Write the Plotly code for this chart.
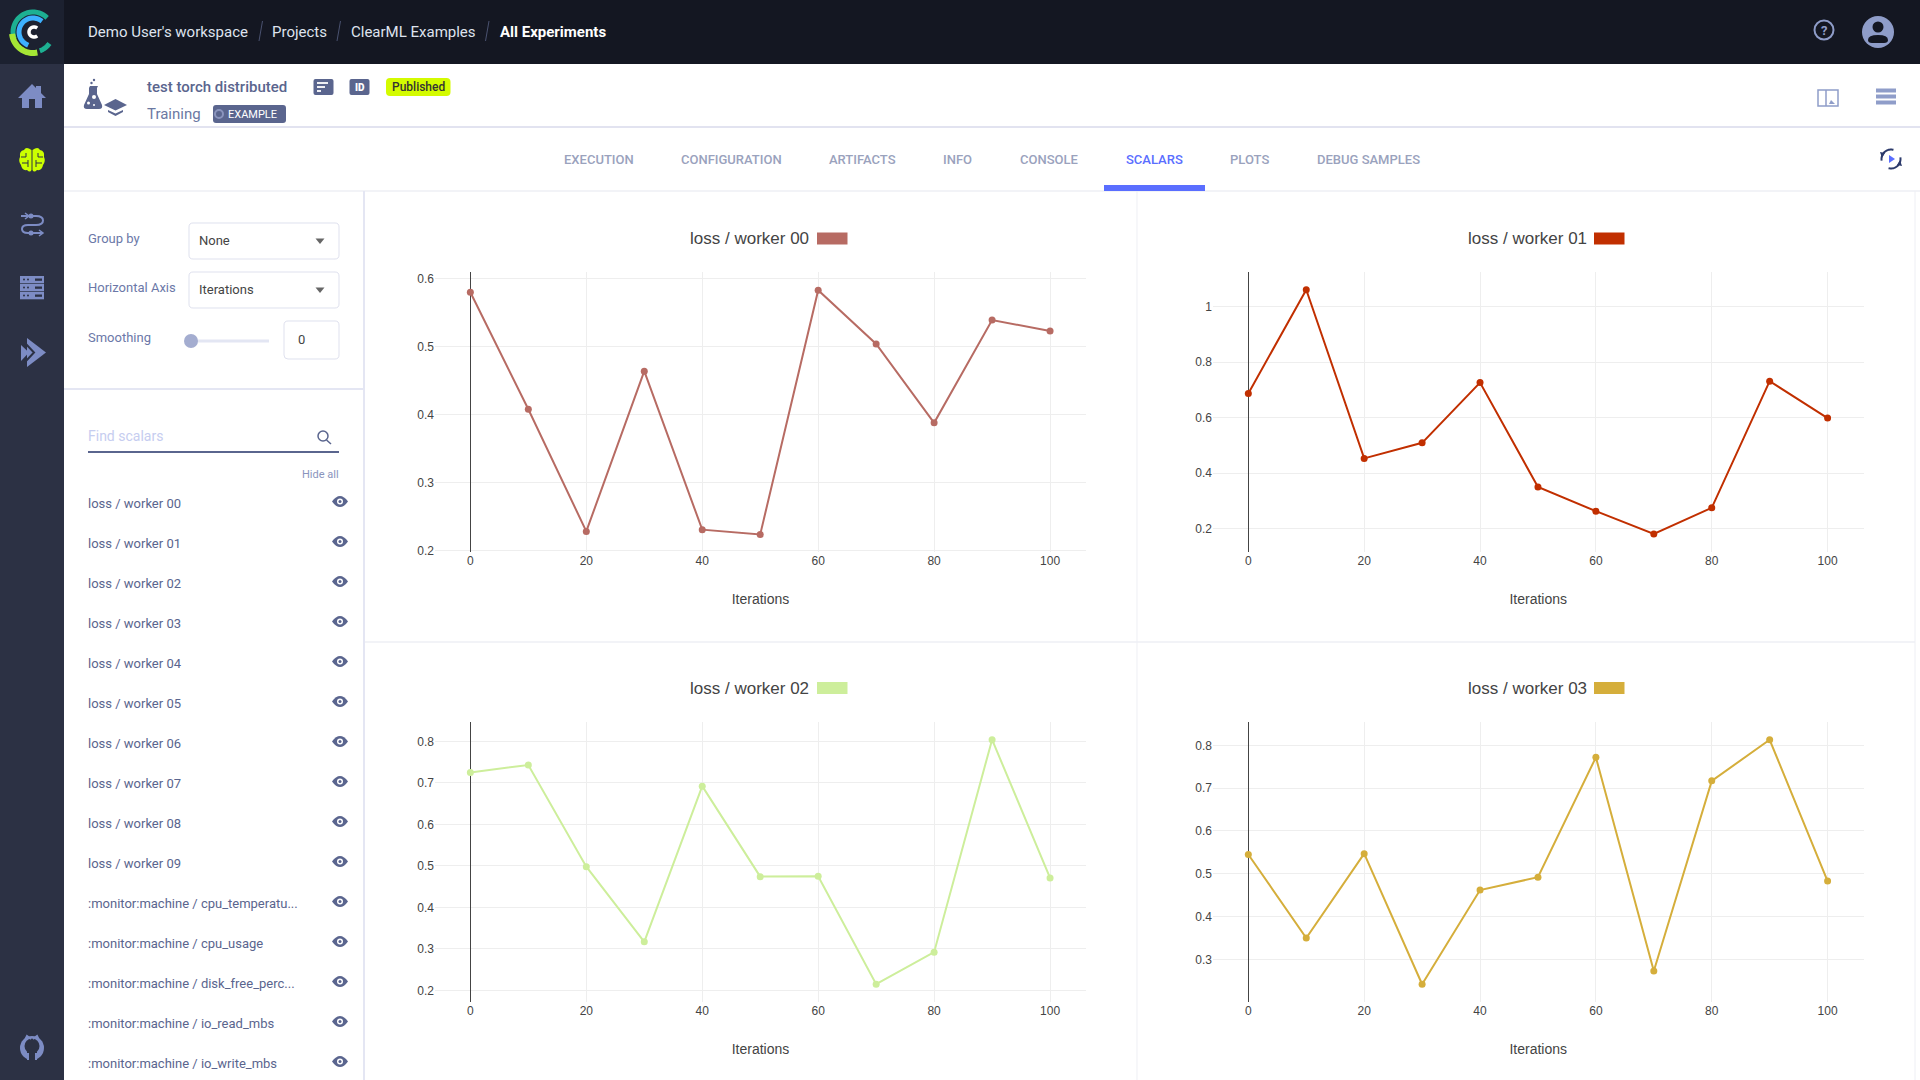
import re
import numpy as np
import plotly.graph_objects as go

iterations = [0, 10, 20, 30, 40, 50, 60, 70, 80, 90, 100]
worker_00 = [0.58, 0.408, 0.2285, 0.464, 0.231, 0.224, 0.583, 0.504, 0.388, 0.539, 0.523]
worker_01 = [0.687, 1.06, 0.453, 0.509, 0.726, 0.35, 0.263, 0.181, 0.275, 0.731, 0.598]
worker_02 = [0.725, 0.743, 0.498, 0.317, 0.692, 0.474, 0.475, 0.215, 0.292, 0.804, 0.471]
worker_03 = [0.545, 0.35, 0.547, 0.242, 0.462, 0.492, 0.772, 0.273, 0.717, 0.813, 0.483]

chart_titles = ["loss / worker 00", "loss / worker 01", "loss / worker 02", "loss / worker 03"]
scalar_names = ["loss / worker 00", "loss / worker 01", "loss / worker 02", "loss / worker 03",
                "loss / worker 04", "loss / worker 05", "loss / worker 06", "loss / worker 07",
                "loss / worker 08", "loss / worker 09", ":monitor:machine / cpu_temperatu...",
                ":monitor:machine / cpu_usage", ":monitor:machine / disk_free_perc...",
                ":monitor:machine / io_read_mbs", ":monitor:machine / io_write_mbs"]
tab_names = ["EXECUTION", "CONFIGURATION", "ARTIFACTS", "INFO", "CONSOLE", "SCALARS", "PLOTS", "DEBUG SAMPLES"]
crumbs = ["Demo User's workspace", "Projects", "ClearML Examples"]

W, H = 1920, 1080
UI = "Roboto"
CHART = "Liberation Sans"
SLATE = "#5a658e"
SIDE = "#2c3144"
ICON = "#7d8cc4"

shapes = []
notes = []


def fx(x):
    return x / W


def fy(y):
    return 1 - y / H


# svg path in page pixels -> path in paper coordinates
def svg(d, fill=None, line=None, lw=1):
    out = []
    i = 0
    for tok in re.findall(r"[MLQCZ]|-?\d+\.?\d*", d):
        if tok.isalpha():
            out.append(tok)
        else:
            out.append(str(round(fx(float(tok)) if i % 2 == 0 else fy(float(tok)), 6)))
            i += 1
    s = dict(type="path", xref="paper", yref="paper", layer="below", path=" ".join(out))
    s["fillcolor"] = fill if fill else "rgba(0,0,0,0)"
    s["line"] = dict(color=line, width=lw) if line else dict(width=0)
    shapes.append(s)


def rect(x0, y0, x1, y1, fill=None, line=None, lw=1, r=0):
    if r:
        svg(f"M{x0 + r} {y0} L{x1 - r} {y0} Q{x1} {y0} {x1} {y0 + r} L{x1} {y1 - r} Q{x1} {y1} {x1 - r} {y1} "
            f"L{x0 + r} {y1} Q{x0} {y1} {x0} {y1 - r} L{x0} {y0 + r} Q{x0} {y0} {x0 + r} {y0} Z", fill, line, lw)
    else:
        svg(f"M{x0} {y0} L{x1} {y0} L{x1} {y1} L{x0} {y1} Z", fill, line, lw)


def circle(cx, cy, r, fill=None, line=None, lw=1):
    shapes.append(dict(type="circle", xref="paper", yref="paper", layer="below",
                       x0=fx(cx - r), x1=fx(cx + r), y0=fy(cy + r), y1=fy(cy - r),
                       fillcolor=fill if fill else "rgba(0,0,0,0)",
                       line=dict(color=line, width=lw) if line else dict(width=0)))


def arc(cx, cy, r, a0, a1, color, lw):
    pts = [(cx + r * np.cos(np.radians(a)), cy - r * np.sin(np.radians(a))) for a in np.linspace(a0, a1, 24)]
    svg("M" + " L".join(f"{p[0]:.2f} {p[1]:.2f}" for p in pts), None, color, lw)


def label(x, y, text, size, color, anchor="left", family=UI, weight=400):
    notes.append(dict(x=fx(x), y=fy(y), xref="paper", yref="paper", text=text, showarrow=False,
                      xanchor=anchor, yanchor="middle", borderpad=0, borderwidth=0,
                      font=dict(family=family, size=size, color=color, weight=weight)))


# page blocks
rect(64, 0, 1920, 64, "#141722")
rect(0, 0, 64, 64, "#1c2130")
rect(0, 64, 64, 1080, SIDE)
svg("M64 127 L1920 127", None, "#e2e3f0", 2)
svg("M64 191 L1920 191", None, "#eeeff4", 1.5)
svg("M364 191 L364 1080", None, "#e4e6f3", 2)
svg("M64 389 L364 389", None, "#e4e6f3", 2)
svg("M1137 191 L1137 1080", None, "#eeeff4", 1)
svg("M365 642 L1915 642", None, "#eeeff4", 1.5)
svg("M1915 191 L1915 1080", None, "#eeeff4", 1)

# logo
arc(33, 32, 20, 45, 200, "#1db092", 5)
arc(33, 32, 20, 290, 325, "#1db092", 5)
arc(33, 32, 14, 50, 250, "#3db1ff", 5)
arc(33, 32, 21, 185, 282, "#a5e635", 6)
arc(34, 32, 5, 50, 310, "#ffffff", 3.5)

# sidebar icons
svg("M18 98 L32 84 L36 88 L36 86 L41 86 L41 93 L46 98 L42 98 L42 108 L35 108 L35 99 L29 99 L29 108 L22 108 L22 98 Z", ICON)
svg("M31.5 150 Q26 146 24 150 Q19 151 20 157 Q18 161 21 165 Q22 171 27 170 Q30 173 31.5 170 Z", "#ccff00")
svg("M32.5 150 Q38 146 40 150 Q45 151 44 157 Q46 161 43 165 Q42 171 37 170 Q34 173 32.5 170 Z", "#ccff00")
svg("M21 157 L26 157 L26 153 M28 160 L28 167 M22 163 L28 163", None, SIDE, 1)
svg("M43 157 L38 157 L38 153 M36 160 L36 167 M42 163 L36 163", None, SIDE, 1)
svg("M21 216 L36 216 Q43 216 43 220.5 Q43 225 36 225 L28 225 Q22 225 22 229 Q22 233 28 233 L43 233", None, ICON, 2)
svg("M39 230 L43 233 L39 236 M25 213 L29 216 L25 219", None, ICON, 1.5)
circle(31, 216, 2.5, ICON)
circle(31, 233, 2.5, ICON)
for y in [276, 284, 292]:
    rect(20, y, 44, y + 7.3, ICON)
    rect(35, y + 2.5, 42, y + 4.8, SIDE)
    circle(24, y + 3.6, 1, SIDE)
    circle(28, y + 3.6, 1, SIDE)
svg("M27 338 L46 352.5 L27 367 Z", ICON)
svg("M25 343 L34 352.5 L25 362", None, SIDE, 2)
svg("M21 345 L29 352.5 L21 361 Z", ICON)
circle(32, 1048, 12, ICON)
circle(32, 1046, 7.5, SIDE)
svg("M25 1040 L27 1036 L31 1039 M39 1040 L37 1036 L33 1039", None, ICON, 2)
rect(27, 1052, 37, 1061, SIDE)
svg("M28 1060 L28 1053 M36 1060 L36 1053", None, ICON, 2)

# top bar
x_crumb = [88, 272, 351]
for x, t in zip(x_crumb, crumbs):
    label(x, 32, t, 15, "#dfe3ee")
label(499.5, 32, "All Experiments", 15, "#ffffff", weight=700)
for x in [259, 337, 485.5]:
    svg(f"M{x + 3.5} 21 L{x} 41", None, "#4a5270", 1)
circle(1824, 30, 9.5, None, "#8f9dc9", 2)
label(1824, 30, "?", 13, "#8f9dc9", "center", weight=700)
circle(1878, 32, 16, "#8f9dc9")
circle(1878, 27, 5.5, "#141722")
svg("M1868 40 Q1868 35 1878 35 Q1888 35 1888 40 Q1888 43 1884 43 L1872 43 Q1868 43 1868 40 Z", "#141722")

# experiment header
svg("M90 86 L98 86 L97 88 L97 94 L102 105 Q103 109 99 109 L87 109 Q83 109 84 105 L89 94 L89 88 Z", SLATE)
circle(94, 97, 2, "#ffffff")
circle(88.5, 103, 1.5, "#ffffff")
circle(94, 105, 1, "#ffffff")
circle(94, 80, 1.2, SLATE)
circle(91.5, 83, 1.2, SLATE)
svg("M104 105 L115.5 99 L127 105 L115.5 110.5 Z", SLATE)
svg("M108 110 L115.5 113.5 L123 110 L123 112 L115.5 116 L108 112 Z", SLATE)
label(147, 87, "test torch distributed", 15, SLATE, weight=500)
label(147, 114, "Training", 15, "#6b78a2")
rect(213, 105, 286, 123, SLATE, r=3)
circle(219, 114, 4, None, "#8a94bd", 2)
label(252, 114.5, "EXAMPLE", 11, "#ffffff", "center")
rect(313.5, 79, 333.5, 95, SLATE, r=2)
for y, x1 in [(83, 328), (87, 325), (91, 321)]:
    svg(f"M317 {y} L{x1} {y}", None, "#ffffff", 1.8)
rect(349.5, 79, 369.5, 95, SLATE, r=2)
label(359.5, 87, "ID", 10, "#ffffff", "center", weight=900)
rect(386, 78, 450.5, 96, "#d4fb00", r=4)
label(418.2, 87, "Published", 12, "#333333", "center", weight=500)
rect(1818, 90, 1838, 106, None, "#8f9dc9", 1.5)
svg("M1826 90 L1826 106", None, "#8f9dc9", 1.5)
svg("M1829 104 L1831 100 L1833 102 L1835 104 Z", "#8f9dc9")
for y in [90.5, 96.5, 102.5]:
    rect(1876, y - 2, 1896, y + 2, "#8f9dc9")

# tabs
tab_x = [599, 731, 862.7, 957.5, 1049, 1154, 1249, 1368]
for x, t in zip(tab_x, tab_names):
    label(x, 159.5, t, 13, "#5a6eff" if t == "SCALARS" else "#9aa2bd", "center", weight=500)
rect(1104, 185, 1205, 191, "#5a6eff")
arc(1891, 159, 9.5, 75, 190, "#2c3a6b", 2)
arc(1891, 159, 9.5, 255, 370, "#2c3a6b", 2)
svg("M1880 152 L1882 158 L1885 153 Z M1902 166 L1900 160 L1897 165 Z", "#2c3a6b")
svg("M1889 155 L1895 159 L1889 163 Z", "#5a6eff")

# filter panel
label(88, 238.6, "Group by", 13, "#6b78a8")
label(88, 287, "Horizontal Axis", 13, "#6b78a8")
label(88, 338, "Smoothing", 13, "#6b78a8")
for y0, txt in [(223, "None"), (272, "Iterations")]:
    rect(189, y0, 339, y0 + 36, None, "#dfe1ee", 1, r=4)
    label(199, y0 + 17.5, txt, 13, "#444444")
    svg(f"M315.5 {y0 + 15.5} L324.5 {y0 + 15.5} L320 {y0 + 21} Z", "#666666")
svg("M191 341 L269 341", None, "#e3e6f3", 3)
circle(191, 341, 7, "#a4add0")
rect(284, 321, 339, 359, None, "#dfe1ee", 1, r=4)
label(298, 339, "0", 13, "#444444")

# scalar list
label(88, 435.5, "Find scalars", 14, "#c6cdf0")
svg("M88 452 L339 452", None, SLATE, 2)
circle(323, 436, 5, None, SLATE, 1.5)
svg("M326.5 440 L331 444", None, SLATE, 1.5)
label(339, 474, "Hide all", 11, "#8a94bd", "right")
for i, name in enumerate(scalar_names):
    y = 503 + i * 40
    label(88, y, name, 13, SLATE)
    e = y - 1.5
    svg(f"M332 {e} Q340 {e - 11} 348 {e} Q340 {e + 11} 332 {e} Z", SLATE)
    circle(340, e, 3, "#ffffff")
    circle(340, e, 1.5, SLATE)

# the four charts
series = [worker_00, worker_01, worker_02, worker_03]
colors = ["#b76b63", "#c12f00", "#cdee9b", "#d5ae3b"]
x_doms = [(435, 1086), (1213, 1863.5), (435, 1086), (1213, 1863.5)]
y_doms = [(272, 552), (272, 552), (722, 1002), (722, 1002)]
y_ranges = [[0.1982, 0.6097], [0.116, 1.124], [0.172, 0.8465], [0.2005, 0.8545]]
y_dticks = [0.1, 0.2, 0.1, 0.1]
title_x = [749.5, 1527.5, 749.5, 1527.5]
swatch_x = [817, 1594, 817, 1594]
title_y = [238.5, 238.5, 688, 688]

fig = go.Figure()
axes = {}
for i in range(4):
    n = "" if i == 0 else str(i + 1)
    fig.add_trace(go.Scatter(x=iterations, y=series[i], mode="lines+markers", name=chart_titles[i],
                             xaxis="x" + n, yaxis="y" + n, line=dict(color=colors[i], width=2),
                             marker=dict(color=colors[i], size=7), cliponaxis=False))
    axes["xaxis" + n] = dict(domain=[fx(x_doms[i][0]), fx(x_doms[i][1])], range=[-6.1, 106.2], anchor="y" + n,
                             tick0=0, dtick=20, showgrid=True, gridcolor="#eeeeee", gridwidth=1,
                             zeroline=True, zerolinecolor="#444444", zerolinewidth=1, showline=False,
                             ticks="", tickfont=dict(family=CHART, size=12, color="#444444"),
                             title=dict(text="Iterations", standoff=27, font=dict(family=CHART, size=14, color="#444444")),
                             automargin=False)
    axes["yaxis" + n] = dict(domain=[fy(y_doms[i][1]), fy(y_doms[i][0])], range=y_ranges[i], anchor="x" + n,
                             dtick=y_dticks[i], tick0=0, showgrid=True, gridcolor="#eeeeee", gridwidth=1,
                             zeroline=False, showline=False, ticks="",
                             tickfont=dict(family=CHART, size=12, color="#444444"), automargin=False)
    label(title_x[i], title_y[i], chart_titles[i], 17, "#444444", "center", CHART)
    rect(swatch_x[i], title_y[i] - 6, swatch_x[i] + 30.5, title_y[i] + 6, colors[i])

fig.update_layout(width=W, height=H, margin=dict(l=0, r=0, t=0, b=0, pad=0), showlegend=False,
                  paper_bgcolor="#ffffff", plot_bgcolor="rgba(0,0,0,0)", shapes=shapes, annotations=notes,
                  font=dict(family=CHART, color="#444444"), **axes)

fig.write_html("out.html", config=dict(displayModeBar=False),
               post_script="document.body.style.margin='0';document.body.style.overflow='hidden';")
